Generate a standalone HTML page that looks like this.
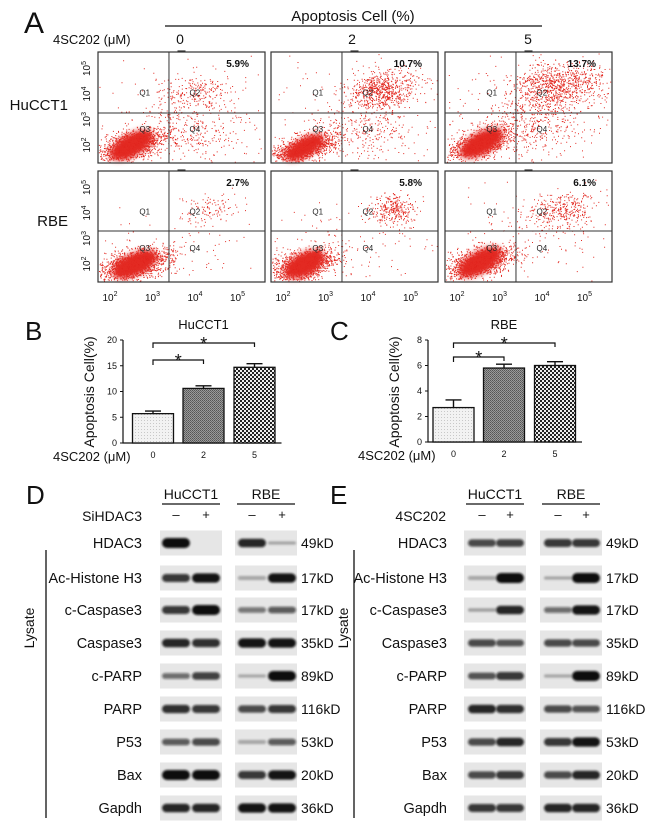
<!DOCTYPE html>
<html><head><meta charset="utf-8">
<style>
html,body{margin:0;padding:0;background:#fff;}
svg{display:block;font-family:"Liberation Sans Narrow","Liberation Sans",sans-serif;}
</style></head>
<body>
<svg id="fig" width="650" height="832" viewBox="0 0 650 832" xmlns="http://www.w3.org/2000/svg">
<defs>
  <filter id="blur1" x="-20%" y="-100%" width="140%" height="300%"><feGaussianBlur stdDeviation="1.1"/></filter>
  <filter id="blur2" x="-30%" y="-50%" width="160%" height="200%"><feGaussianBlur stdDeviation="3"/></filter>
  <pattern id="pat-dots" width="3" height="3" patternUnits="userSpaceOnUse"><rect width="3" height="3" fill="#f2f2f2"/><rect width="1" height="1" fill="#c8c8c8"/></pattern>
  <pattern id="pat-gray" width="2" height="2" patternUnits="userSpaceOnUse"><rect width="2" height="2" fill="#9a9a9a"/><rect width="1" height="1" fill="#555"/><rect x="1" y="1" width="1" height="1" fill="#666"/></pattern>
  <pattern id="pat-check" width="4" height="4" patternUnits="userSpaceOnUse"><rect width="4" height="4" fill="#eee"/><rect width="2" height="2" fill="#222"/><rect x="2" y="2" width="2" height="2" fill="#222"/></pattern>
</defs>
<g id="panelA"></g>
<g id="panelB"></g>
<g id="panelC"></g>
<g id="panelD"></g>
<g id="panelE"></g>
</svg>
<script>
// ---------- DATA ----------
const doseLabels = ['0','2','5'];
const cellLines = ['HuCCT1','RBE'];
const flowPercents = [['5.9%','10.7%','13.7%'],['2.7%','5.8%','6.1%']];
const flowTickLabels = ['2','3','4','5'];
// clusters per plot: [cx, cy, sx, sy, count, angleDeg] in normalized plot coords
const flowClusters = [
  [[[0.2,0.84,0.11,0.06,1400,-30],[0.58,0.38,0.12,0.09,260,-20],[0.55,0.72,0.15,0.13,260,0],[0.5,0.6,0.35,0.3,120,0]],
   [[0.2,0.86,0.1,0.05,1200,-30],[0.66,0.34,0.11,0.08,700,-20],[0.55,0.7,0.15,0.13,260,0],[0.5,0.6,0.35,0.3,150,0]],
   [[0.22,0.82,0.11,0.06,1100,-30],[0.68,0.3,0.14,0.1,900,-20],[0.55,0.65,0.16,0.14,330,0],[0.5,0.6,0.35,0.3,200,0]]],
  [[[0.22,0.84,0.11,0.06,1600,-25],[0.65,0.35,0.1,0.07,110,-25],[0.5,0.7,0.3,0.2,80,0]],
   [[0.2,0.84,0.1,0.06,1500,-30],[0.72,0.34,0.07,0.07,300,0],[0.5,0.65,0.3,0.2,120,0]],
   [[0.21,0.82,0.11,0.06,1400,-30],[0.7,0.35,0.11,0.08,350,-25],[0.5,0.65,0.3,0.2,130,0]]]
];
const barCategories = ['0','2','5'];
const hucctValues = [5.7,10.6,14.7];
const hucctErrors = [0.5,0.5,0.7];
const hucctTicks = [0,5,10,15,20];
const rbeValues = [2.7,5.8,6.0];
const rbeErrors = [0.6,0.3,0.3];
const rbeTicks = [0,2,4,6,8];
const blotProteins = ['HDAC3','Ac-Histone H3','c-Caspase3','Caspase3','c-PARP','PARP','P53','Bax','Gapdh'];
const blotSizes = ['49kD','17kD','17kD','35kD','89kD','116kD','53kD','20kD','36kD'];
const dHucct = [[1,0],[0.7,0.9],[0.7,1],[0.8,0.75],[0.4,0.65],[0.75,0.7],[0.5,0.6],[1,1],[0.8,0.8]];
const dRbe = [[0.8,0.05],[0.1,0.9],[0.35,0.5],[0.9,0.9],[0.03,1],[0.6,0.7],[0.1,0.5],[0.7,0.9],[0.9,0.9]];
const eHucct = [[0.6,0.65],[0.1,1],[0.08,0.8],[0.6,0.55],[0.55,0.7],[0.8,0.75],[0.6,0.8],[0.6,0.7],[0.7,0.7]];
const eRbe = [[0.7,0.7],[0.05,1],[0.4,0.9],[0.6,0.6],[0.04,1],[0.6,0.55],[0.7,0.9],[0.6,0.8],[0.8,0.8]];

// ---------- HELPERS ----------
const NS='http://www.w3.org/2000/svg';
function mk(parent,tag,attrs,text){const e=document.createElementNS(NS,tag);for(const k in attrs)e.setAttribute(k,attrs[k]);if(text!==undefined)e.textContent=text;parent.appendChild(e);return e;}
function txt(parent,x,y,s,size,anchor,name,extra){const t=mk(parent,'text',Object.assign({x:x,y:y,'font-size':size,'text-anchor':anchor||'start',fill:'#111'},extra||{}),s);


return t;}
let seed=12345;
function rnd(){seed|=0;seed=seed+0x6D2B79F5|0;let t=Math.imul(seed^seed>>>15,1|seed);t=t+Math.imul(t^t>>>7,61|t)^t;return((t^t>>>14)>>>0)/4294967296;}
function gauss(){let u=rnd()||1e-6,v=rnd();return Math.sqrt(-2*Math.log(u))*Math.cos(2*Math.PI*v);}

// ---------- PANEL A ----------
const A=document.getElementById('panelA');
txt(A,24,33,'A',30,'start','panel-a-letter',{'font-family':'Liberation Sans, sans-serif'});
txt(A,353,21,'Apoptosis Cell (%)',15,'middle','apoptosis-header');
const hl=mk(A,'line',{x1:165,y1:26,x2:542,y2:26,stroke:'#111','stroke-width':1.3});


txt(A,53,44,'4SC202 (μM)',13,'start','dose-axis-label');
const plotLefts=[98,271,445], plotW=167;
const plotTops=[52,171], plotH=111;
const hFrac=[0.55,0.54], vFrac=0.425;
doseLabels.forEach((d,i)=>{txt(A,[180,352,528][i],44,d,14,'middle','dose-label-'+d);});
cellLines.forEach((cl,r)=>{
  txt(A,68,[110,226][r],cl,15,'end','row-label-'+cl.toLowerCase());
  flowTickLabels.forEach((e,k)=>{
    const yy=plotTops[r]+plotH-18-k*25.5;
    const g=mk(A,'g',{transform:'translate(90,'+yy+') rotate(-90)'});
    
    
    const t=mk(g,'text',{x:0,y:0,'font-size':10,'text-anchor':'middle',fill:'#111'},'10');
    mk(t,'tspan',{dy:-4,'font-size':7},e);
  });
  doseLabels.forEach((d,c)=>{
    const x0=plotLefts[c], y0=plotTops[r];
    const g=mk(A,'g',{});
    
    
    mk(g,'rect',{x:x0,y:y0,width:plotW,height:plotH,fill:'#fff'});
    const cls=flowClusters[r][c];
    const core=cls[0];
    mk(g,'ellipse',{cx:x0+core[0]*plotW,cy:y0+core[1]*plotH,rx:core[2]*plotW*1.3,ry:core[3]*plotH*1.6,fill:'#e0201c',filter:'url(#blur2)',transform:'rotate('+core[5]+' '+(x0+core[0]*plotW)+' '+(y0+core[1]*plotH)+')'});
    let dots='';
    cls.forEach(cc=>{
      const a=cc[5]*Math.PI/180;
      for(let n=0;n<cc[4];n++){
        let gx=gauss()*cc[2], gy=gauss()*cc[3];
        const px=cc[0]+gx*Math.cos(a)-gy*Math.sin(a), py=cc[1]+gx*Math.sin(a)+gy*Math.cos(a);
        if(px<0.005||px>0.995||py<0.01||py>0.99)continue;
        dots+='M'+(x0+px*plotW).toFixed(1)+' '+(y0+py*plotH).toFixed(1)+'h1v1h-1z';
      }
    });
    mk(g,'path',{d:dots,fill:'#e32a22'});
    mk(g,'rect',{x:x0,y:y0,width:plotW,height:plotH,fill:'none',stroke:'#333','stroke-width':1.2});
    const vx=x0+vFrac*plotW, hy=y0+hFrac[r]*plotH;
    mk(g,'line',{x1:vx,y1:y0,x2:vx,y2:y0+plotH,stroke:'#333','stroke-width':1});
    mk(g,'line',{x1:x0,y1:hy,x2:x0+plotW,y2:hy,stroke:'#333','stroke-width':1});
    mk(g,'line',{x1:x0+plotW/2-4,y1:y0-1,x2:x0+plotW/2+4,y2:y0-1,stroke:'#333','stroke-width':1.2});
    const qy1=y0+0.39*plotH, qy2=y0+0.72*plotH;
    [['Q1',x0+0.28*plotW,qy1],['Q2',x0+0.58*plotW,qy1],['Q3',x0+0.28*plotW,qy2],['Q4',x0+0.58*plotW,qy2]].forEach(q=>{
      txt(g,q[1],q[2],q[0],8,'middle','quadrant-'+q[0].toLowerCase(),{fill:'#222'});
    });
    txt(g,x0+plotW-16,y0+15,flowPercents[r][c],10,'end','percent-'+cl.toLowerCase()+'-'+d,{'font-weight':'bold'});
  });
});
plotLefts.forEach((x0,c)=>{
  flowTickLabels.forEach((e,k)=>{
    const t=mk(A,'text',{x:x0+12+k*42.5,y:301,'font-size':10,'text-anchor':'middle',fill:'#111'},'10');
    
    
    mk(t,'tspan',{dy:-5,'font-size':7},e);
  });
});

// ---------- BAR CHARTS ----------
function barChart(G,letter,lx,title,vals,errs,ticks,axX,y0,yTop,maxV,centers,brackets){
  txt(G,lx,340,letter,26,'start','panel-'+letter.toLowerCase()+'-letter',{'font-family':'Liberation Sans, sans-serif'});
  const y=v=>y0-(v/maxV)*(y0-yTop);
  txt(G,centers[1],329,title,13,'middle','chart-title');
  const yt=mk(G,'g',{transform:'translate('+(axX-29)+',392) rotate(-90)'});
  
  
  mk(yt,'text',{x:0,y:0,'font-size':14,'text-anchor':'middle',fill:'#111'},'Apoptosis Cell(%)');
  const ax=mk(G,'path',{d:'M'+axX+' '+yTop+'V'+y0+'H'+(centers[2]+27),stroke:'#111','stroke-width':1.2,fill:'none'});
  
  
  ticks.forEach(t=>{
    mk(G,'line',{x1:axX-3,y1:y(t),x2:axX,y2:y(t),stroke:'#111','stroke-width':1});
    txt(G,axX-6,y(t)+3,String(t),9,'end','y-tick-'+t);
  });
  const fills=['url(#pat-dots)','url(#pat-gray)','url(#pat-check)'];
  vals.forEach((v,i)=>{
    const b=mk(G,'rect',{x:centers[i]-20.5,y:y(v),width:41,height:y0-y(v),fill:fills[i],stroke:'#111','stroke-width':1.3});
    
    
    const e=mk(G,'path',{d:'M'+centers[i]+' '+y(v)+'V'+y(v+errs[i])+'M'+(centers[i]-8)+' '+y(v+errs[i])+'H'+(centers[i]+8),stroke:'#111','stroke-width':1.4,fill:'none'});
    
    
    txt(G,centers[i],y0+15,barCategories[i],9,'middle','x-tick-'+barCategories[i]);
  });
  txt(G,axX-70,y0+18,'4SC202 (μM)',13,'start','x-axis-label');
  brackets.forEach((bk,k)=>{
    const by=bk[1];
    const p=mk(G,'path',{d:'M'+centers[0]+' '+(by+5)+'V'+by+'H'+centers[bk[0]]+'V'+(by+4),stroke:'#111','stroke-width':1.2,fill:'none'});
    
    
    txt(G,(centers[0]+centers[bk[0]])/2,by+7,'*',18,'middle','significance-star-'+(k+1),{'font-family':'Liberation Sans, sans-serif'});
  });
}
barChart(document.getElementById('panelB'),'B',25,'HuCCT1',hucctValues,hucctErrors,hucctTicks,123,443,340,20,[153,203.5,254.5],[[1,360],[2,343]]);
barChart(document.getElementById('panelC'),'C',330,'RBE',rbeValues,rbeErrors,rbeTicks,428,442,340,8,[453.5,504,555],[[1,357],[2,343]]);

// ---------- WESTERN BLOTS ----------
const rowY=[543,578,610,643,676,709,742,775,808];
function blotPanel(G,letter,lx,treat,treatX,boxes,lanes,datas,kdX,labelX,lysX,lysTextX,headers){
  txt(G,lx,504,letter,26,'start','panel-'+letter.toLowerCase()+'-letter',{'font-family':'Liberation Sans, sans-serif'});
  headers.forEach((h,i)=>{
    txt(G,(boxes[i][0]+boxes[i][1])/2,499,h,14,'middle','header-'+h.toLowerCase());
    const l=mk(G,'line',{x1:boxes[i][0]+2,y1:504,x2:boxes[i][1]-2,y2:504,stroke:'#111','stroke-width':1.3});
    
    
    txt(G,lanes[i][0],519,'–',13,'middle','minus-'+h.toLowerCase());
    txt(G,lanes[i][1],519,'+',13,'middle','plus-'+h.toLowerCase());
  });
  txt(G,treatX,521,treat,14,'end','treatment-label');
  const ll=mk(G,'line',{x1:lysX,y1:550,x2:lysX,y2:818,stroke:'#111','stroke-width':1.3});
  
  
  const lt=mk(G,'g',{transform:'translate('+lysTextX+',628) rotate(-90)'});
  
  
  mk(lt,'text',{x:0,y:0,'font-size':14,'text-anchor':'middle',fill:'#111'},'Lysate');
  blotProteins.forEach((p,r)=>{
    const cy=rowY[r];
    txt(G,labelX,cy+5,p,14.5,'end','row-label-'+p.toLowerCase().replace(/\s+/g,'-'));
    txt(G,kdX,cy+5,blotSizes[r],14,'start','mw-label-'+r);
    boxes.forEach((bx,i)=>{
      const g=mk(G,'g',{});
      
      
      mk(g,'rect',{x:bx[0],y:cy-12.5,width:bx[1]-bx[0],height:25,fill:'#e6e6e6'});
      datas[i][r].forEach((v,j)=>{
        if(v<0.02)return;
        const h=3+7*v;
        mk(g,'rect',{x:lanes[i][j]-14,y:cy-h/2,width:28,height:h,rx:h/2,fill:'#111','fill-opacity':Math.min(1,0.25+0.8*v),filter:'url(#blur1)'});
      });
    });
  });
}
blotPanel(document.getElementById('panelD'),'D',26,'SiHDAC3',142,[[160,222],[235,297]],[[176,206],[252,282]],[dHucct,dRbe],301,142,46,34,['HuCCT1','RBE']);
blotPanel(document.getElementById('panelE'),'E',330,'4SC202',446,[[464,526],[540,602]],[[482,510],[558,586]],[eHucct,eRbe],606,447,354,348,['HuCCT1','RBE']);
</script>
</body></html>
